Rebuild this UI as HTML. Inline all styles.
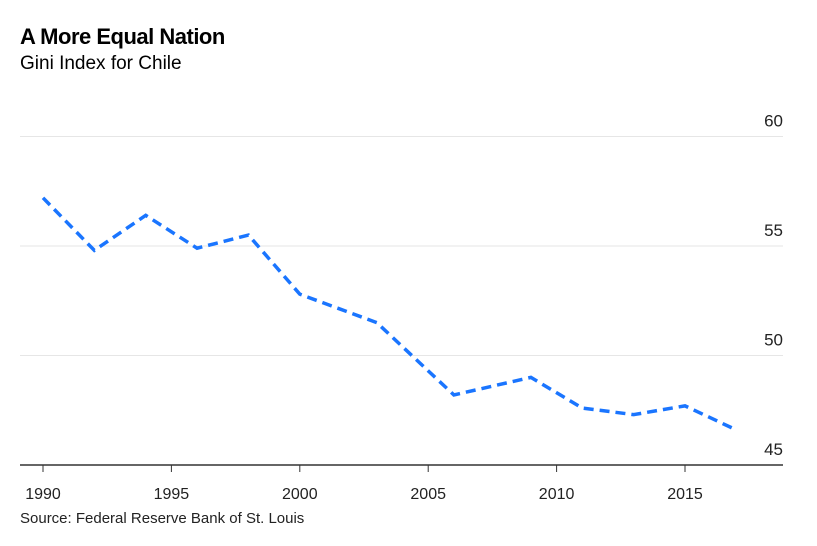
<!DOCTYPE html>
<html><head><meta charset="utf-8"><style>
body{margin:0;background:#fff;font-family:"Liberation Sans",sans-serif;}
#wrap{position:relative;width:817px;height:546px;overflow:hidden}
.t{position:absolute;color:#000}
</style></head><body>
<div id="wrap">
<div class="t" style="left:20px;top:24px;font-size:22px;font-weight:bold;letter-spacing:-0.5px">A More Equal Nation</div>
<div class="t" style="left:20px;top:53px;font-size:19px">Gini Index for Chile</div>
<div class="t" style="left:20px;top:510px;font-size:15px;color:#222">Source: Federal Reserve Bank of St. Louis</div>
<svg id="svg" width="817" height="546" style="position:absolute;left:0;top:0"></svg>
</div>
<script>
const years=[1990,1992,1994,1996,1998,2000,2003,2006,2009,2011,2013,2015,2017];
const gini=[57.2,54.8,56.4,54.9,55.5,52.8,51.5,48.2,49.0,47.6,47.3,47.7,46.6];
const yTicks=[45,50,55,60];
const xTicks=[1990,1995,2000,2005,2010,2015];
const NS="http://www.w3.org/2000/svg";
const svg=document.getElementById('svg');
const x=v=>43+(v-1990)*25.68;
const y=v=>465-(v-45)*21.9;
function mk(t,a){const e=document.createElementNS(NS,t);for(const k in a)e.setAttribute(k,a[k]);svg.appendChild(e);return e;}
yTicks.forEach(v=>{
  if(v>45){const g=mk('line',{x1:20,x2:783,y1:y(v),y2:y(v),stroke:'#e6e6e6','stroke-width':1});
  
  }
  const t=mk('text',{x:783,y:y(v)-10,'text-anchor':'end','font-size':17,fill:'#222','font-family':'Liberation Sans'});
  t.textContent=v;
  
  
});
const ax=mk('line',{x1:20,x2:783,y1:465,y2:465,stroke:'#333','stroke-width':1.5});


xTicks.forEach(v=>{
  const tk=mk('line',{x1:x(v),x2:x(v),y1:465,y2:472,stroke:'#333','stroke-width':1});
  
  
  const t=mk('text',{x:x(v),y:499,'text-anchor':'middle','font-size':16,fill:'#222','font-family':'Liberation Sans'});
  t.textContent=v;
  
  
});
const p=mk('polyline',{points:years.map((v,i)=>x(v)+','+y(gini[i])).join(' '),fill:'none',stroke:'#1a75ff','stroke-width':3.5,'stroke-dasharray':'10,6'});


</script>
</body></html>
